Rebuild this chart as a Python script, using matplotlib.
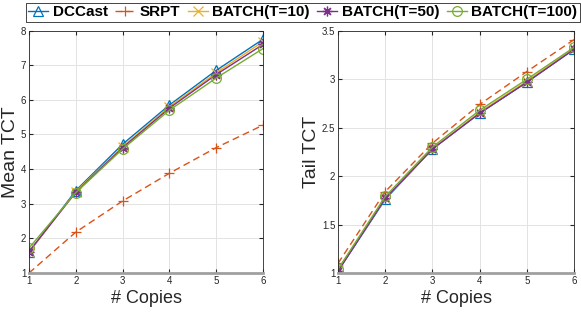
import matplotlib
matplotlib.use("Agg")
import matplotlib.pyplot as plt

plt.rcParams["font.family"] = ["Liberation Sans", "DejaVu Sans"]

copies = [1, 2, 3, 4, 5, 6]
names = ["DCCast", "SRPT", "BATCH(T=10)", "BATCH(T=50)", "BATCH(T=100)"]
mean_dccast = [1.60, 3.38, 4.72, 5.85, 6.85, 7.75]
mean_srpt = [1.00, 2.18, 3.08, 3.88, 4.62, 5.27]
mean_b10 = [1.60, 3.35, 4.65, 5.80, 6.78, 7.68]
mean_b50 = [1.62, 3.33, 4.62, 5.76, 6.73, 7.60]
mean_b100 = [1.72, 3.32, 4.58, 5.70, 6.63, 7.48]
tail_dccast = [1.02, 1.76, 2.28, 2.65, 2.97, 3.31]
tail_srpt = [1.10, 1.84, 2.34, 2.74, 3.08, 3.41]
tail_b10 = [1.03, 1.77, 2.28, 2.66, 2.98, 3.32]
tail_b50 = [1.02, 1.77, 2.28, 2.65, 2.97, 3.31]
tail_b100 = [1.04, 1.79, 2.30, 2.68, 3.00, 3.33]

colors = ["#0072BD", "#D95319", "#EDB120", "#7E2F8E", "#77AC30"]
markers = ["^", "+", "x", (8, 2, 0), "o"]
styles = ["-", "--", "-", "-", "-"]

fig = plt.figure(figsize=(5.81, 3.12), dpi=100)
ax1 = fig.add_axes([0.0499, 0.125, 0.4028, 0.777])
ax2 = fig.add_axes([0.5818, 0.125, 0.4062, 0.776])

def draw(ax, series, ylabel, ylim, yticks, yticklabels):
    handles = []
    for i, s in enumerate(series):
        h, = ax.plot(copies, s, color=colors[i], ls=styles[i], lw=1.0,
                     marker=markers[i], markersize=7, mfc="none", mew=0.9,
                     dashes=(5, 3) if styles[i] == "--" else (None, None))
        handles.append(h)
    ax.set_xlim(1, 6)
    ax.set_ylim(*ylim)
    ax.set_xticks(copies)
    ax.set_yticks(yticks)
    ax.set_yticklabels(yticklabels)
    ax.grid(True, color="#e3e3e3", lw=0.7)
    ax.set_axisbelow(True)
    ax.tick_params(direction="in", labelsize=7, colors="#262626", length=3,
                   top=True, right=True, pad=2)
    for sp in ax.spines.values():
        sp.set_color("#262626")
        sp.set_linewidth(0.6)
    ax.spines["bottom"].set_color("#a0a0a0")
    ax.spines["bottom"].set_linewidth(2.0)
    ax.set_xlabel("# Copies", fontsize=13, color="#262626", labelpad=3)
    ax.set_ylabel(ylabel, fontsize=14, color="#262626", labelpad=1)
    return handles

h = draw(ax1, [mean_dccast, mean_srpt, mean_b10, mean_b50, mean_b100], "Mean TCT",
         (1, 8), [1, 2, 3, 4, 5, 6, 7, 8], ["1", "2", "3", "4", "5", "6", "7", "8"])
draw(ax2, [tail_dccast, tail_srpt, tail_b10, tail_b50, tail_b100], "Tail TCT",
     (1, 3.5), [1, 1.5, 2, 2.5, 3, 3.5], ["1", "1.5", "2", "2.5", "3", "3.5"])

leg = fig.legend(h, names, loc="upper center", bbox_to_anchor=(0.521, 0.995), ncol=5,
                 prop={"weight": "bold", "size": 11}, handlelength=1.3, handletextpad=0.3,
                 columnspacing=0.5, borderpad=0.15, fancybox=False, edgecolor="#262626",
                 framealpha=1, borderaxespad=0.1)
leg.get_frame().set_linewidth(0.6)

fig.savefig("out.png", dpi=100)
